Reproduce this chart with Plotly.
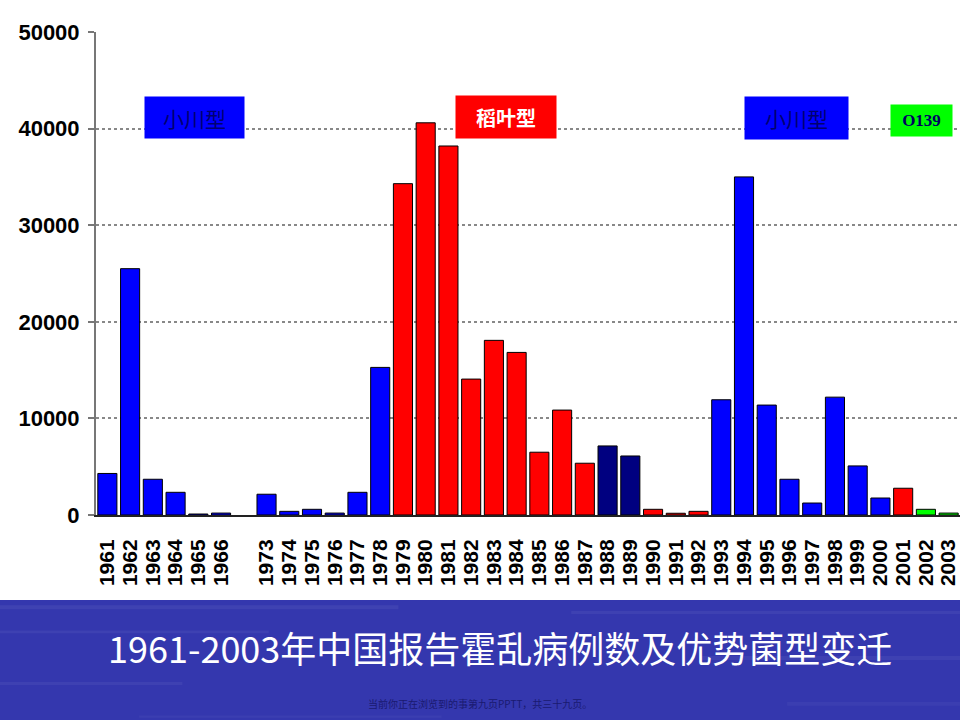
import plotly.graph_objects as go

# reported cholera cases in China, 1961-2003 (1967-1972 not shown)
years = ["1961", "1962", "1963", "1964", "1965", "1966", " ",
         "1973", "1974", "1975", "1976", "1977", "1978", "1979", "1980",
         "1981", "1982", "1983", "1984", "1985", "1986", "1987", "1988",
         "1989", "1990", "1991", "1992", "1993", "1994", "1995", "1996",
         "1997", "1998", "1999", "2000", "2001", "2002", "2003"]
cases = [4300, 25500, 3700, 2350, 100, 200, None,
         2150, 380, 590, 200, 2350, 15280, 34300, 40600,
         38200, 14070, 18080, 16830, 6500, 10860, 5360, 7150,
         6110, 590, 180, 380, 11930, 35000, 11380, 3700,
         1240, 12200, 5080, 1760, 2770, 590, 200]
# dominant strain per year
strain = ["小川", "小川", "小川", "小川", "小川", "小川", None,
          "小川", "小川", "小川", "小川", "小川", "小川", "稻叶", "稻叶",
          "稻叶", "稻叶", "稻叶", "稻叶", "稻叶", "稻叶", "稻叶", "混合",
          "混合", "稻叶", "稻叶", "稻叶", "小川", "小川", "小川", "小川",
          "小川", "小川", "小川", "小川", "稻叶", "O139", "O139"]
type_labels = ["小川型", "稻叶型", "小川型", "O139"]

strain_colors = {"小川": "#0000FF", "稻叶": "#FF0000", "混合": "#000080",
                 "O139": "#00FF00", None: "rgba(0,0,0,0)"}
bar_colors = [strain_colors[s] for s in strain]

fig = go.Figure()
fig.add_trace(go.Bar(
    x=years, y=cases,
    marker=dict(color=bar_colors, line=dict(color="black", width=1)),
    showlegend=False,
))

# bottom banner (water-like blue)
fig.add_shape(type="rect", xref="paper", yref="paper",
              x0=-0.12, x1=1.02, y0=-0.44, y1=-0.176,
              fillcolor="#3437AE", line=dict(width=0), layer="below")
for x0, x1, y0, h, op in [(-0.12, 0.35, -0.195, 0.008, 0.06), (0.55, 1.02, -0.205, 0.006, 0.05),
                          (-0.12, 0.20, -0.245, 0.006, 0.05), (0.70, 1.02, -0.300, 0.008, 0.05),
                          (-0.12, 0.10, -0.352, 0.006, 0.05), (0.80, 1.02, -0.395, 0.008, 0.04),
                          (0.05, 0.40, -0.420, 0.005, 0.04)]:
    fig.add_shape(type="rect", xref="paper", yref="paper",
                  x0=x0, x1=x1, y0=y0, y1=y0 + h,
                  fillcolor="rgba(255,255,255,%s)" % op, line=dict(width=0), layer="below")

box_font = "Noto Sans CJK SC"
box = dict(showarrow=False, xref="paper", yref="paper", xanchor="center", yanchor="middle",
           borderpad=2)
fig.add_annotation(x=0.114, y=0.823, text=type_labels[0], bgcolor="#0000FF",
                   width=95, height=37, font=dict(family=box_font, size=21, color="#000070"), **box)
fig.add_annotation(x=0.4745, y=0.824, text="<b>%s</b>" % type_labels[1], bgcolor="#FF0000",
                   width=96, height=38, font=dict(family=box_font, size=20, color="white"), **box)
fig.add_annotation(x=0.8108, y=0.822, text=type_labels[2], bgcolor="#0000FF",
                   width=99, height=38, font=dict(family=box_font, size=21, color="#000070"), **box)
fig.add_annotation(x=0.9554, y=0.8168, text="<b>%s</b>" % type_labels[3], bgcolor="#00FF00",
                   width=57, height=27, font=dict(family="Liberation Serif", size=17, color="#000060"), **box)

fig.add_annotation(x=0.4676, y=-0.274, xref="paper", yref="paper", xanchor="center", yanchor="middle",
                   text="1961-2003年中国报告霍乱病例数及优势菌型变迁",
                   showarrow=False, font=dict(family="Noto Sans CJK SC", size=36, color="white"))
fig.add_annotation(x=0.444, y=-0.391, xref="paper", yref="paper", xanchor="center", yanchor="middle",
                   text="当前你正在浏览到的事第九页PPTT，共三十九页。",
                   showarrow=False, font=dict(family="Noto Sans CJK SC", size=10, color="#1a1a70"))

fig.update_layout(
    width=960, height=720,
    margin=dict(l=96, r=0, t=32, b=205, autoexpand=False),
    paper_bgcolor="white", plot_bgcolor="white",
    bargap=0.16,
    font=dict(family="Liberation Sans", color="black"),
    xaxis=dict(
        type="category", categoryorder="array", categoryarray=years,
        range=[-0.5, len(years) - 0.5],
        tickmode="array", tickvals=years, ticktext=["<b>%s</b>" % y for y in years],
        tickangle=-90, tickfont=dict(family="Liberation Sans", size=21, color="black"),
        ticks="outside", ticklen=14, tickcolor="rgba(0,0,0,0)",
        showline=True, linecolor="#222", linewidth=2,
        showgrid=False,
    ),
    yaxis=dict(
        range=[0, 50000], dtick=10000, tickformat="d",
        tickfont=dict(family="Liberation Sans", size=22, color="black"),
        tickprefix="<b>", ticksuffix="</b>",
        ticks="outside", ticklen=6, tickcolor="#777", tickwidth=2,
        ticklabelstandoff=4,
        showline=True, linecolor="#777", linewidth=2,
        showgrid=True, gridcolor="#888", griddash="dot", gridwidth=1.5,
        zeroline=False,
    ),
)

fig.write_html("out.html", config={"displayModeBar": False},
               post_script="document.body.style.margin='0';document.body.style.overflow='hidden';")
